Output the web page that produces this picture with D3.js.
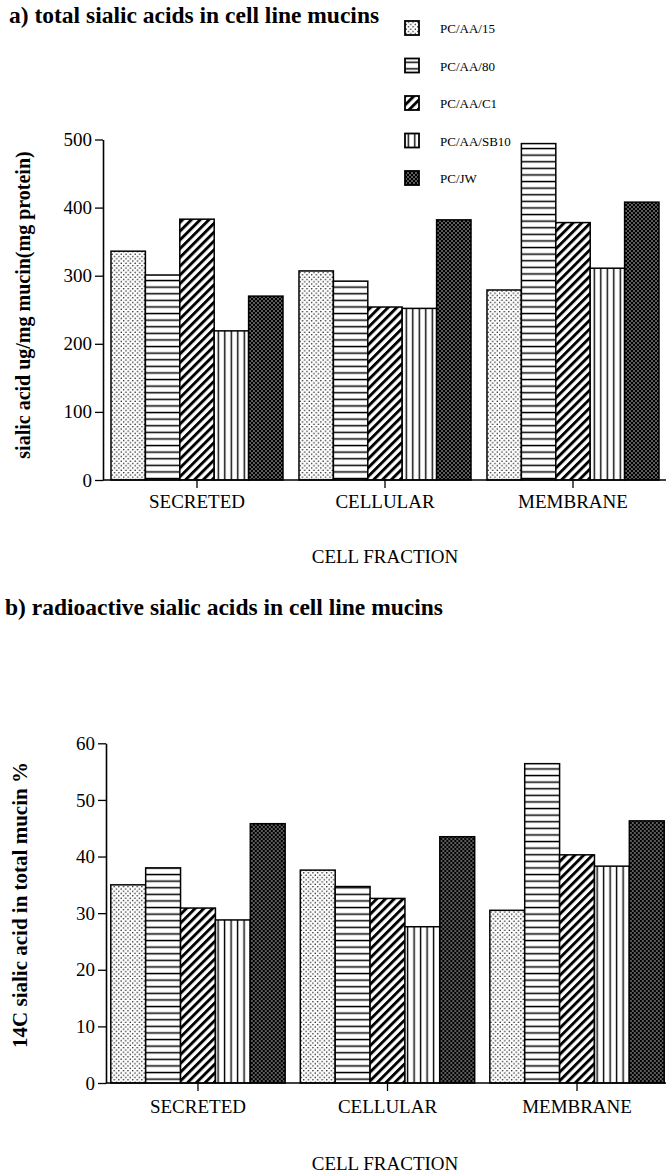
<!DOCTYPE html>
<html>
<head>
<meta charset="utf-8">
<script src="https://cdn.jsdelivr.net/npm/d3@7"></script>
<style>
  body { margin: 0; background: #fff; }
  text { font-family: "Liberation Serif", serif; fill: #000; }
</style>
</head>
<body>
<div id="chart"></div>
<script>
// categories and series
var fractions = ['SECRETED', 'CELLULAR', 'MEMBRANE'];
var cellLines = ['PC/AA/15', 'PC/AA/80', 'PC/AA/C1', 'PC/AA/SB10', 'PC/JW'];

// a) total sialic acids, ug/mg mucin (mg protein), per cell line over fractions
var totalAA15   = [336, 307, 279];
var totalAA80   = [301, 292, 494];
var totalAAC1   = [383, 254, 378];
var totalAASB10 = [219, 252, 311];
var totalJW     = [270, 382, 408];
var totalTicks  = [0, 100, 200, 300, 400, 500];

// b) radioactive (14C) sialic acid, % of total mucin
var radioAA15   = [35.0, 37.6, 30.5];
var radioAA80   = [38.0, 34.7, 56.4];
var radioAAC1   = [30.9, 32.6, 40.3];
var radioAASB10 = [28.8, 27.6, 38.3];
var radioJW     = [45.8, 43.5, 46.3];
var radioTicks  = [0, 10, 20, 30, 40, 50, 60];

var W = 666, H = 1175;
var svg = d3.select('#chart').append('svg')
  .attr('width', W)
  .attr('height', H);

// hatch patterns, one per cell line
var defs = svg.append('defs');

function pattern(id, w, h, rot) {
  var p = defs.append('pattern')
    .attr('id', id)
    .attr('patternUnits', 'userSpaceOnUse')
    .attr('width', w)
    .attr('height', h);
  if (rot) p.attr('patternTransform', 'rotate(' + rot + ')');
  return p;
}

// light dots
var p0 = pattern('pat0', 4.6, 4.6);
p0.append('rect').attr('width', 4.6).attr('height', 4.6).attr('fill', '#fff');
p0.append('circle').attr('cx', 1.15).attr('cy', 1.15).attr('r', 0.75).attr('fill', '#000');
p0.append('circle').attr('cx', 3.45).attr('cy', 3.45).attr('r', 0.75).attr('fill', '#000');

// horizontal lines
var p1 = pattern('pat1', 8, 6.6);
p1.append('rect').attr('width', 8).attr('height', 6.6).attr('fill', '#fff');
p1.append('rect').attr('y', 2.6).attr('width', 8).attr('height', 1.5).attr('fill', '#000');

// thick diagonal stripes
var p2 = pattern('pat2', 6.2, 6.2, 45);
p2.append('rect').attr('width', 6.2).attr('height', 6.2).attr('fill', '#fff');
p2.append('rect').attr('width', 2.9).attr('height', 6.2).attr('fill', '#000');

// vertical lines
var p3 = pattern('pat3', 6.5, 8);
p3.append('rect').attr('width', 6.5).attr('height', 8).attr('fill', '#fff');
p3.append('rect').attr('x', 2.6).attr('width', 1.4).attr('height', 8).attr('fill', '#000');

// dark dots
var p4 = pattern('pat4', 4, 4);
p4.append('rect').attr('width', 4).attr('height', 4).attr('fill', '#000');
p4.append('circle').attr('cx', 1).attr('cy', 1).attr('r', 0.7).attr('fill', '#fff');
p4.append('circle').attr('cx', 3).attr('cy', 3).attr('r', 0.7).attr('fill', '#fff');

function drawPanel(o) {
  var g = svg.append('g');

  var x0 = d3.scaleBand()
    .domain(fractions)
    .range(o.xRange)
    .paddingInner(o.padIn)
    .paddingOuter(o.padOut);

  var x1 = d3.scaleBand()
    .domain(cellLines)
    .range([0, x0.bandwidth()]);

  var y = d3.scaleLinear()
    .domain([0, o.ticks[o.ticks.length - 1]])
    .range(o.yRange);

  // bars
  var groups = g.selectAll('.grp')
    .data(fractions)
    .enter().append('g')
    .attr('transform', function(d) { return 'translate(' + x0(d) + ',0)'; });

  groups.selectAll('rect')
    .data(function(d, i) {
      return cellLines.map(function(c, k) { return { line: c, k: k, v: o.series[k][i] }; });
    })
    .enter().append('rect')
    .attr('x', function(d) { return x1(d.line); })
    .attr('y', function(d) { return y(d.v); })
    .attr('width', x1.bandwidth())
    .attr('height', function(d) { return y(0) - y(d.v); })
    .attr('fill', function(d) { return 'url(#pat' + d.k + ')'; })
    .attr('stroke', '#000')
    .attr('stroke-width', 1.5);

  // y axis
  var yAxis = g.append('g')
    .attr('transform', 'translate(' + o.axisX + ',0)')
    .call(d3.axisLeft(y).tickValues(o.ticks).tickSize(8).tickSizeOuter(0).tickPadding(3));
  yAxis.select('.domain').attr('stroke-width', 1.6);
  yAxis.selectAll('.tick line').attr('stroke-width', 1.3);
  yAxis.selectAll('text')
    .style('font-family', '"Liberation Serif", serif')
    .style('font-size', '19px');

  // x axis
  var xAxis = g.append('g')
    .attr('transform', 'translate(0,' + y(0) + ')')
    .call(d3.axisBottom(x0).tickSize(8).tickSizeOuter(0));
  xAxis.select('.domain').remove();
  xAxis.append('line')
    .attr('x1', o.axisX).attr('x2', W)
    .attr('stroke', '#000')
    .attr('stroke-width', 1.6);
  xAxis.selectAll('.tick line').attr('stroke-width', 1.3);
  xAxis.selectAll('text')
    .attr('y', o.tickLabelY)
    .attr('dy', null)
    .style('font-family', '"Liberation Serif", serif')
    .style('font-size', '19px');

  // titles
  g.append('text')
    .attr('x', o.titleX)
    .attr('y', o.titleY)
    .style('font-size', '23.5px')
    .style('font-weight', 'bold')
    .text(o.title);

  g.append('text')
    .attr('x', 385)
    .attr('y', o.xLabelY)
    .attr('text-anchor', 'middle')
    .style('font-size', '19px')
    .text('CELL FRACTION');

  g.append('text')
    .attr('transform', 'translate(' + o.yLabelX + ',' + o.yLabelY + ') rotate(-90)')
    .attr('text-anchor', 'middle')
    .style('font-size', o.yLabelSize)
    .style('font-weight', 'bold')
    .text(o.yLabel);
}

drawPanel({
  series: [totalAA15, totalAA80, totalAAC1, totalAASB10, totalJW],
  ticks: totalTicks,
  xRange: [103, 667],
  padIn: 0.085,
  padOut: 0.0425,
  yRange: [480, 139.5],
  axisX: 103,
  tickLabelY: 28,
  title: 'a) total sialic acids in cell line mucins',
  titleX: 9, titleY: 23,
  xLabelY: 563,
  yLabel: 'sialic acid ug/mg mucin(mg protein)',
  yLabelX: 30, yLabelY: 305, yLabelSize: '20px'
});

drawPanel({
  series: [radioAA15, radioAA80, radioAAC1, radioAASB10, radioJW],
  ticks: radioTicks,
  xRange: [103.5, 671.5],
  padIn: 0.08,
  padOut: 0.0385,
  yRange: [1083, 743.3],
  axisX: 106,
  tickLabelY: 30,
  title: 'b) radioactive sialic acids in cell line mucins',
  titleX: 5, titleY: 615,
  xLabelY: 1170,
  yLabel: '14C sialic acid in total mucin %',
  yLabelX: 27, yLabelY: 905, yLabelSize: '21px'
});

// legend
var legend = svg.append('g')
  .selectAll('g')
  .data(cellLines)
  .enter().append('g')
  .attr('transform', function(d, i) { return 'translate(405,' + (28 + i * 37.5) + ')'; });

legend.append('rect')
  .attr('x', 0).attr('y', -7)
  .attr('width', 14).attr('height', 14)
  .attr('fill', function(d, i) { return 'url(#pat' + i + ')'; })
  .attr('stroke', '#000')
  .attr('stroke-width', 1.8);

legend.append('text')
  .attr('x', 35)
  .attr('y', 5)
  .style('font-size', '13px')
  .text(function(d) { return d; });
</script>
</body>
</html>
